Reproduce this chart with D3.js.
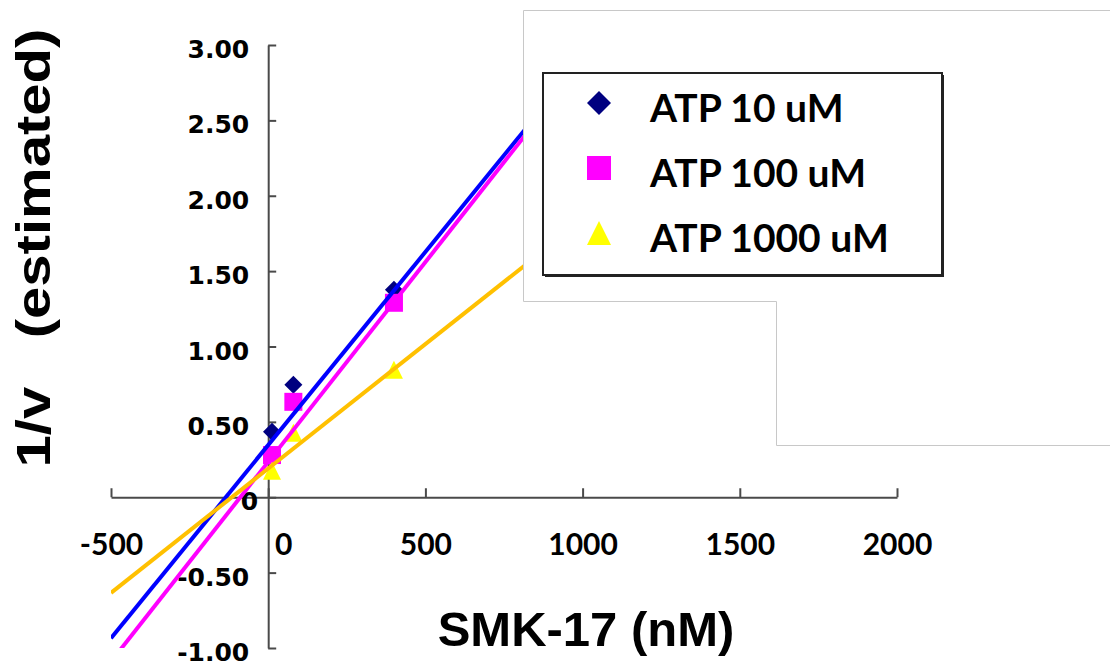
<!DOCTYPE html>
<html>
<head>
<meta charset="utf-8">
<script src="https://cdn.jsdelivr.net/npm/d3@7"></script>
<style>
  html, body { margin: 0; padding: 0; background: #ffffff; }
  svg { display: block; }
</style>
</head>
<body>
<svg id="chart" width="1110" height="666"></svg>
<script>
// ---------------- data ----------------
const xTickValues = [-500, 0, 500, 1000, 1500, 2000];
const xTickLabels = ["-500", "0", "500", "1000", "1500", "2000"];
const yTickValues = [-1, -0.5, 0, 0.5, 1, 1.5, 2, 2.5, 3];
const yTickLabels = ["-1.00", "-0.50", "0", "0.50", "1.00", "1.50", "2.00", "2.50", "3.00"];

const seriesNames = ["ATP 10 uM", "ATP 100 uM", "ATP 1000 uM"];
const smk17 = [12, 80, 400];                 // SMK-17 (nM)
const atp10 = [0.434, 0.746, 1.376];          // 1/v
const atp100 = [0.28, 0.633, 1.29];
const atp1000 = [0.176, 0.428, 0.846];

// linear trendlines (y = intercept + slope * x), forecast back to -500
const trendSlopes = [0.002563, 0.00265, 0.00165];
const trendIntercepts = [0.346, 0.235, 0.191];
const trendRange = [-500, 1000];

const markerColors = ["#000080", "#FF00FF", "#FFFF00"];
const lineColors = ["#0000FF", "#FF00FF", "#FFC000"];
const markerShapes = ["diamond", "square", "triangle"];

// ---------------- setup ----------------
const svg = d3.select("#chart");
const x = d3.scaleLinear().domain([-500, 2000]).range([111, 897]);
const y = d3.scaleLinear().domain([-1, 3]).range([648, 45]);

function shapePath(shape, s) {
  const h = s / 2;
  if (shape === "diamond") return `M0,${-h}L${h},0L0,${h}L${-h},0Z`;
  if (shape === "square") return `M${-h},${-h}H${h}V${h}H${-h}Z`;
  return `M0,${-h}L${h},${h}L${-h},${h}Z`;
}

const seriesValues = [atp10, atp100, atp1000];
const series = seriesNames.map((name, i) => ({
  name,
  color: markerColors[i],
  lineColor: lineColors[i],
  shape: markerShapes[i],
  points: smk17.map((c, j) => ({ x: c, y: seriesValues[i][j] })),
  slope: trendSlopes[i],
  intercept: trendIntercepts[i]
}));

svg.append("defs").append("clipPath").attr("id", "plotClip")
  .append("rect")
  .attr("x", x(-500)).attr("y", y(3))
  .attr("width", x(2000) - x(-500)).attr("height", y(-1) - y(3));

// ---------------- axes ----------------
const axisColor = "#4a4a4a";

const xAxis = d3.axisBottom(x)
  .tickValues(xTickValues)
  .tickFormat((d, i) => xTickLabels[i])
  .tickSizeInner(-9)
  .tickSizeOuter(0)
  .tickPadding(0);

const gx = svg.append("g")
  .attr("transform", `translate(0,${y(0)})`)
  .call(xAxis);
gx.select(".domain").attr("stroke", axisColor).attr("stroke-width", 2);
gx.selectAll(".tick line").attr("stroke", axisColor).attr("stroke-width", 2);
gx.selectAll(".tick text")
  .attr("y", 58)
  .attr("dy", 0)
  .attr("dx", d => d === 0 ? 15 : 0)
  .attr("fill", "#000")
  .style("font-family", "Lato, 'Open Sans', sans-serif")
  .style("font-weight", "bold")
  .style("font-size", "30px");

const yAxis = d3.axisLeft(y)
  .tickValues(yTickValues)
  .tickFormat((d, i) => yTickLabels[i])
  .tickSizeInner(-8)
  .tickSizeOuter(0)
  .tickPadding(19);

const gy = svg.append("g")
  .attr("transform", `translate(${x(0)},0)`)
  .call(yAxis);
gy.select(".domain").attr("stroke", axisColor).attr("stroke-width", 2);
gy.selectAll(".tick line").attr("stroke", axisColor).attr("stroke-width", 2);
gy.selectAll(".tick text")
  .attr("dy", "0.5em")
  .attr("dx", d => d === 0 ? 9 : 0)
  .attr("fill", "#000")
  .style("font-family", "'DejaVu Sans', Verdana, sans-serif")
  .style("font-weight", "bold")
  .style("font-size", "25px");

// ---------------- markers ----------------
const gm = svg.append("g");
series.forEach(s => {
  gm.selectAll(null)
    .data(s.points)
    .enter()
    .append("path")
    .attr("d", shapePath(s.shape, 18))
    .attr("transform", d => `translate(${x(d.x)},${y(d.y)})`)
    .attr("fill", s.color);
});

// ---------------- trendlines ----------------
const line = d3.line().x(d => x(d[0])).y(d => y(d[1]));
const gl = svg.append("g").attr("clip-path", "url(#plotClip)");
series.forEach(s => {
  const pts = trendRange.map(v => [v, s.intercept + s.slope * v]);
  gl.append("path")
    .attr("d", line(pts))
    .attr("fill", "none")
    .attr("stroke", s.lineColor)
    .attr("stroke-width", 4);
});

// ---------------- overlay box ----------------
svg.append("path")
  .attr("d", "M523.5,10.5H1112V445.5H776.5V301.5H523.5Z")
  .attr("fill", "#ffffff")
  .attr("stroke", "#c8c8c8")
  .attr("stroke-width", 1);

// ---------------- legend ----------------
const lg = svg.append("g");
lg.append("rect")
  .attr("x", 545).attr("y", 75).attr("width", 399).attr("height", 202)
  .attr("fill", "#222");
lg.append("rect")
  .attr("x", 543).attr("y", 73).attr("width", 399).attr("height", 202)
  .attr("fill", "#ffffff").attr("stroke", "#222").attr("stroke-width", 2);

const rowY = d3.scalePoint().domain(seriesNames).range([103, 233]);
series.forEach(s => {
  lg.append("path")
    .attr("d", shapePath(s.shape, 24))
    .attr("transform", `translate(599,${rowY(s.name)})`)
    .attr("fill", s.color);
  lg.append("text")
    .attr("x", 650)
    .attr("y", rowY(s.name) + 19)
    .attr("fill", "#000")
    .style("font-family", "Lato, 'Open Sans', sans-serif")
    .style("font-weight", "bold")
    .style("font-size", "39px")
    .text(s.name);
});

// ---------------- titles ----------------
svg.append("text")
  .attr("x", 586).attr("y", 646)
  .attr("text-anchor", "middle")
  .attr("fill", "#000")
  .style("font-family", "'Liberation Sans', Arial, sans-serif")
  .style("font-weight", "bold")
  .style("font-size", "49px")
  .text("SMK-17 (nM)");

svg.append("text")
  .attr("transform", "translate(50,248) rotate(-90) scale(1.21,1)")
  .attr("text-anchor", "middle")
  .attr("fill", "#000")
  .style("white-space", "pre")
  .style("font-family", "'Liberation Sans', Arial, sans-serif")
  .style("font-weight", "bold")
  .style("font-size", "48px")
  .text("1/v   (estimated)");
</script>
</body>
</html>
